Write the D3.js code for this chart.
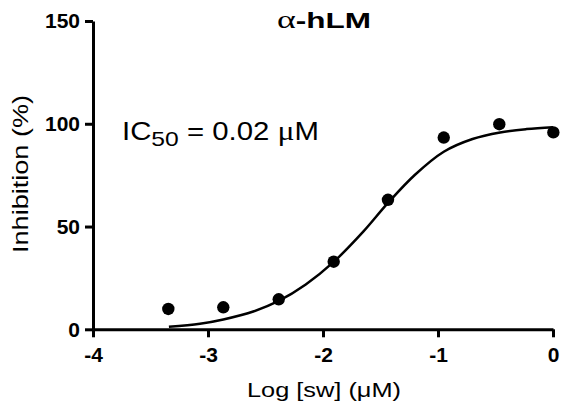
<!DOCTYPE html>
<meta charset="utf-8">
<style type="text/css">
body { margin: 0; background: #fff; }
.axis path, .axis line { stroke: #000; stroke-width: 3px; fill: none; }
.axis text { font-family: "Liberation Sans", Arial, sans-serif; font-weight: bold; font-size: 21px; fill: #000; }
.curve { fill: none; stroke: #000; stroke-width: 2.5px; }
.dot { fill: #000; }
.lbl { font-family: "Liberation Sans", Arial, sans-serif; fill: #000; }
</style>
<body>
<script src="https://cdn.jsdelivr.net/npm/d3@7"></script>
<script>

// measured points: log concentration and % inhibition
var logConc = [-3.345, -2.867, -2.385, -1.907, -1.435, -0.95, -0.467, 0.003];
var inhibition = [9.9, 10.7, 14.6, 32.9, 63.0, 93.3, 99.8, 95.8];

// fitted curve
var fitX = [-3.34, -3.07, -2.867, -2.6, -2.385, -2.15, -1.907, -1.65, -1.435, -1.2, -0.95, -0.7, -0.46, -0.23, 0];
var fitY = [1.2, 2.7, 4.8, 8.8, 13.8, 21.8, 32.8, 47.5, 61.5, 75.2, 86.4, 92.6, 95.8, 97.4, 98.3];

var xTicks = [-4, -3, -2, -1, 0];
var yTicks = [0, 50, 100, 150];

var margin = {top: 21, right: 8, bottom: 84.7, left: 93}
  , width = 561 - margin.left - margin.right
  , height = 414 - margin.top - margin.bottom;

var x = d3.scaleLinear().domain([-4, 0]).range([0, width]);
var y = d3.scaleLinear().domain([0, 150]).range([height, 0]);

var svg = d3.select("body").append("svg")
    .attr("width", 561)
    .attr("height", 414);

var g = svg.append("g")
    .attr("transform", "translate(" + margin.left + "," + margin.top + ")");

g.append("g")
    .attr("class", "axis")
    .call(d3.axisLeft(y).tickValues(yTicks).tickSize(8).tickSizeOuter(0).tickPadding(5).tickFormat(d3.format("d")));

g.append("g")
    .attr("class", "axis")
    .attr("transform", "translate(0," + height + ")")
    .call(d3.axisBottom(x).tickValues(xTicks).tickSize(8).tickSizeOuter(0).tickPadding(10).tickFormat(d3.format("d")));

// plain hyphen instead of the unicode minus, like the original
g.selectAll(".axis text").text(function() { return this.textContent.replace("\u2212", "-"); });

var line = d3.line()
    .x(function(d, i) { return x(fitX[i]); })
    .y(function(d) { return y(d); })
    .curve(d3.curveCatmullRom.alpha(0.5));

g.append("path")
    .datum(fitY)
    .attr("class", "curve")
    .attr("d", line);

g.selectAll(".dot")
    .data(inhibition)
  .enter().append("circle")
    .attr("class", "dot")
    .attr("cx", function(d, i) { return x(logConc[i]); })
    .attr("cy", function(d) { return y(d); })
    .attr("r", 6.2);

// title
var title = svg.append("text")
    .attr("class", "lbl")
    .attr("x", 277)
    .attr("y", 28)
    .attr("textLength", 94)
    .attr("lengthAdjust", "spacingAndGlyphs");
title.append("tspan").style("font-family", "'Liberation Serif', 'DejaVu Serif', serif").style("font-size", "25px").text("\u03b1");
title.append("tspan").style("font-weight", "bold").style("font-size", "22px").text("-hLM");

// IC50 annotation
var ic = svg.append("text")
    .attr("class", "lbl")
    .attr("x", 122)
    .attr("y", 140)
    .style("font-size", "25px")
    .attr("textLength", 197)
    .attr("lengthAdjust", "spacingAndGlyphs");
ic.append("tspan").text("IC");
ic.append("tspan").attr("dy", 6).style("font-size", "21px").text("50");
ic.append("tspan").attr("dy", -6).text(" = 0.02 ");
ic.append("tspan").style("font-family", "'Liberation Serif', 'DejaVu Serif', serif").style("font-size", "27px").text("\u03bc");
ic.append("tspan").text("M");

// axis titles
svg.append("text")
    .attr("class", "lbl")
    .attr("x", 247)
    .attr("y", 397)
    .style("font-size", "21px")
    .attr("textLength", 154)
    .attr("lengthAdjust", "spacingAndGlyphs")
    .text("Log [sw] (\u03bcM)");

svg.append("text")
    .attr("class", "lbl")
    .attr("transform", "translate(28,253) rotate(-90)")
    .style("font-size", "22px")
    .attr("textLength", 158)
    .attr("lengthAdjust", "spacingAndGlyphs")
    .text("Inhibition (%)");

</script>
</body>
